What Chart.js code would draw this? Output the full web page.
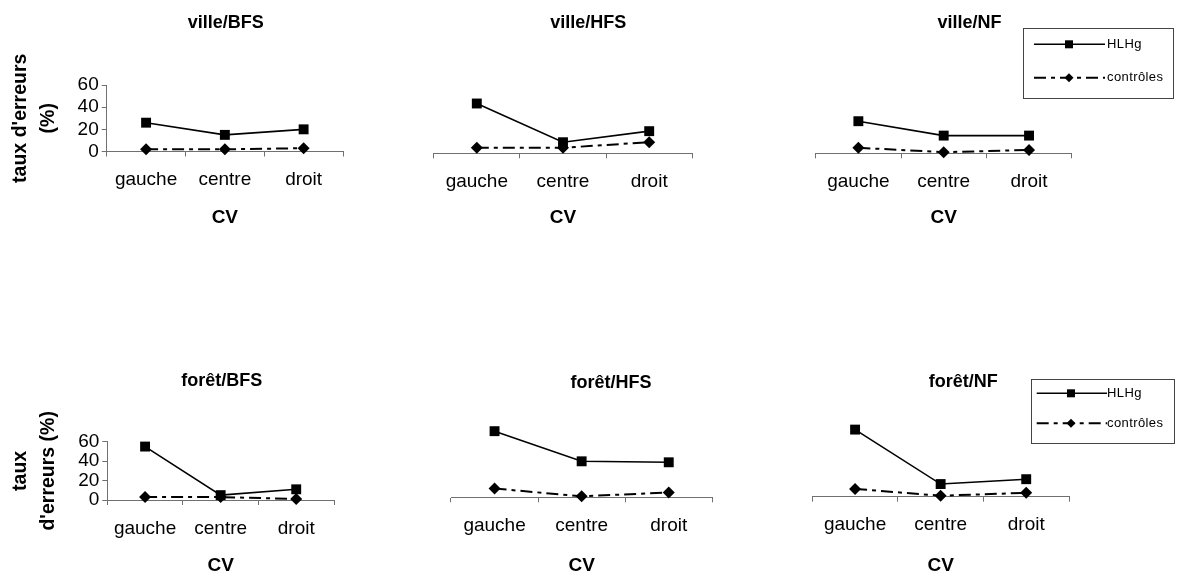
<!DOCTYPE html>
<html>
<head>
<meta charset="utf-8">
<script src="https://cdn.jsdelivr.net/npm/chart.js@4.4.0/dist/chart.umd.min.js"></script>
<style>
  body { margin: 0; background: #fff; width: 1179px; height: 576px; position: relative; overflow: hidden; }
  canvas { position: absolute; }
</style>
</head>
<body>
<script>
// data
const categories = ['gauche', 'centre', 'droit'];
const seriesNames = ['HLHg', 'contrôles'];
const panelTitles = ['ville/BFS', 'ville/HFS', 'ville/NF', 'forêt/BFS', 'forêt/HFS', 'forêt/NF'];
const yTicks = [0, 20, 40, 60];
const yTitleTop = ["taux d'erreurs", '(%)'];
const yTitleBottom = ['taux', "d'erreurs (%)"];
const xTitle = 'CV';

const villeBFS_HLHg = [26, 15, 20];
const villeBFS_controles = [2, 2, 3];
const villeHFS_HLHg = [45, 10, 20];
const villeHFS_controles = [5, 5, 10];
const villeNF_HLHg = [29, 16, 16];
const villeNF_controles = [5, 1, 3];
const foretBFS_HLHg = [55, 5, 11];
const foretBFS_controles = [3, 3, 1];
const foretHFS_HLHg = [68, 37, 36];
const foretHFS_controles = [9, 1, 5];
const foretNF_HLHg = [69, 13, 18];
const foretNF_controles = [8, 1, 4];

const FONT = '"Liberation Sans", Arial, sans-serif';
const axisColor = '#707070';
Chart.defaults.font.family = FONT;
Chart.defaults.color = '#000';

// page layout of each panel: canvas rect [left, top, w, h], plot area [l, t, r, b]
const panels = [
  { title: panelTitles[0], hlhg: villeBFS_HLHg, ctrl: villeBFS_controles, yMax: 60, yTitle: yTitleTop,
    canvas: [0, 0, 390, 240], area: [106.7, 85, 343, 151.5], titlePos: [225.7, 23] },
  { title: panelTitles[1], hlhg: villeHFS_HLHg, ctrl: villeHFS_controles, yMax: 60,
    canvas: [390, 0, 390, 240], area: [433.7, 86.9, 692.3, 153.3], titlePos: [588.3, 23] },
  { title: panelTitles[2], hlhg: villeNF_HLHg, ctrl: villeNF_controles, yMax: 60,
    canvas: [780, 0, 399, 240], area: [815.7, 86.9, 1071.7, 153.3], titlePos: [969.5, 23],
    legend: { box: [1023, 28, 1172.5, 97.5], rows: [44.3, 77.7], line: [1034, 1105], markX: 1069, textX: 1107 } },
  { title: panelTitles[3], hlhg: foretBFS_HLHg, ctrl: foretBFS_controles, yMax: 60, yTitle: yTitleBottom,
    canvas: [0, 358, 390, 230], area: [107.3, 441.7, 334, 500], titlePos: [221.7, 381] },
  { title: panelTitles[4], hlhg: foretHFS_HLHg, ctrl: foretHFS_controles, yMax: 80,
    canvas: [390, 358, 390, 230], area: [451, 419.5, 712.3, 497.3], titlePos: [611, 383] },
  { title: panelTitles[5], hlhg: foretNF_HLHg, ctrl: foretNF_controles, yMax: 80,
    canvas: [780, 358, 399, 230], area: [812.3, 418.9, 1069, 496.7], titlePos: [963.3, 382],
    legend: { box: [1030.7, 379, 1173.3, 442.7], rows: [393.3, 423.3], line: [1036.7, 1107], markX: 1071, textX: 1107 } }
];

const panelTitlePlugin = {
  id: 'panelTitle',
  afterDraw(chart, args, opts) {
    const ctx = chart.ctx;
    ctx.save();
    ctx.font = 'bold 18px ' + FONT;
    ctx.fillStyle = '#000';
    ctx.textAlign = 'center';
    ctx.textBaseline = 'middle';
    ctx.fillText(opts.text, opts.x, opts.y);
    ctx.restore();
  }
};

function marker(ctx, style, x, y, r) {
  ctx.beginPath();
  if (style === 'rect') {
    ctx.rect(x - r, y - r, 2 * r, 2 * r);
  } else {
    ctx.moveTo(x - r, y);
    ctx.lineTo(x, y - r);
    ctx.lineTo(x + r, y);
    ctx.lineTo(x, y + r);
    ctx.closePath();
  }
  ctx.fill();
}

const legendBoxPlugin = {
  id: 'legendBox',
  afterDraw(chart, args, opts) {
    if (!opts.box) return;
    const ctx = chart.ctx;
    const [x0, y0, x1, y1] = opts.box;
    ctx.save();
    ctx.strokeStyle = '#444';
    ctx.lineWidth = 1;
    ctx.strokeRect(Math.round(x0) + 0.5, Math.round(y0) + 0.5, Math.round(x1 - x0), Math.round(y1 - y0));
    chart.data.datasets.forEach((ds, i) => {
      const y = opts.rows[i];
      ctx.strokeStyle = '#000';
      ctx.fillStyle = '#000';
      ctx.lineWidth = ds.borderWidth;
      ctx.setLineDash(ds.borderDash || []);
      ctx.beginPath();
      ctx.moveTo(opts.line[0], y);
      ctx.lineTo(opts.line[1], y);
      ctx.stroke();
      ctx.setLineDash([]);
      marker(ctx, ds.pointStyle, opts.markX, y, ds.pointStyle === 'rect' ? 4 : 4.5);
      ctx.font = '13px ' + FONT;
      ctx.letterSpacing = '0.4px';
      ctx.textAlign = 'left';
      ctx.textBaseline = 'middle';
      ctx.fillText(ds.label, opts.textX, y);
    });
    ctx.restore();
  }
};

panels.forEach(p => {
  const [cl, ct, cw, ch] = p.canvas;
  const [al, at, ar, ab] = p.area;
  const showY = !!p.yTitle;
  const cv = document.createElement('canvas');
  cv.width = cw;
  cv.height = ch;
  cv.style.left = cl + 'px';
  cv.style.top = ct + 'px';
  cv.style.width = cw + 'px';
  cv.style.height = ch + 'px';
  document.body.appendChild(cv);

  const yWidth = al - cl;
  const xHeight = ct + ch - ab;

  const legendOpts = p.legend ? {
    box: [p.legend.box[0] - cl, p.legend.box[1] - ct, p.legend.box[2] - cl, p.legend.box[3] - ct],
    rows: p.legend.rows.map(v => v - ct),
    line: p.legend.line.map(v => v - cl),
    markX: p.legend.markX - cl,
    textX: p.legend.textX - cl
  } : false;

  new Chart(cv, {
    type: 'line',
    data: {
      labels: categories,
      datasets: [
        {
          label: seriesNames[0],
          data: p.hlhg,
          borderColor: '#000',
          backgroundColor: '#000',
          borderWidth: 1.6,
          pointStyle: 'rect',
          pointRadius: 7,
          pointHoverRadius: 7,
          pointBorderWidth: 0,
          pointBackgroundColor: '#000',
          tension: 0,
          clip: false
        },
        {
          label: seriesNames[1],
          data: p.ctrl,
          borderColor: '#000',
          backgroundColor: '#000',
          borderWidth: 2,
          borderDash: [12, 5, 4, 5],
          pointStyle: 'rectRot',
          pointRadius: 6,
          pointHoverRadius: 6,
          pointBorderWidth: 0,
          pointBackgroundColor: '#000',
          tension: 0,
          clip: false
        }
      ]
    },
    options: {
      responsive: false,
      animation: false,
      events: [],
      layout: {
        padding: { left: showY ? 0 : al - cl, right: cl + cw - ar, top: at - ct, bottom: 0 }
      },
      plugins: {
        legend: { display: false },
        tooltip: { enabled: false },
        panelTitle: { text: p.title, x: p.titlePos[0] - cl, y: p.titlePos[1] - ct },
        legendBox: legendOpts
      },
      scales: {
        x: {
          type: 'category',
          offset: true,
          grid: { offset: true, drawOnChartArea: false, drawTicks: true, tickLength: 5, color: axisColor },
          border: { color: axisColor, width: 1 },
          ticks: { font: { size: 19 }, color: '#000', padding: 12, maxRotation: 0, autoSkip: false },
          title: { display: true, text: xTitle, color: '#000', font: { size: 19, weight: 'bold' }, padding: { top: 0, bottom: 10.6 } },
          afterFit: s => { s.height = xHeight; }
        },
        y: showY ? {
          min: yTicks[0],
          max: yTicks[yTicks.length - 1],
          afterBuildTicks: s => { s.ticks = yTicks.map(v => ({ value: v })); },
          grid: { drawOnChartArea: false, drawTicks: true, tickLength: 5, color: axisColor },
          border: { color: axisColor, width: 1 },
          ticks: { font: { size: 19, lineHeight: 1 }, color: '#000', padding: 3, autoSkip: false },
          title: { display: true, text: p.yTitle, color: '#000', font: { size: 19.5, weight: 'bold', lineHeight: 1.45 }, padding: { top: 6, bottom: 0 } },
          afterFit: s => { s.width = yWidth; }
        } : {
          display: false,
          min: 0,
          max: p.yMax
        }
      }
    },
    plugins: [panelTitlePlugin, legendBoxPlugin]
  });
});
</script>
</body>
</html>
